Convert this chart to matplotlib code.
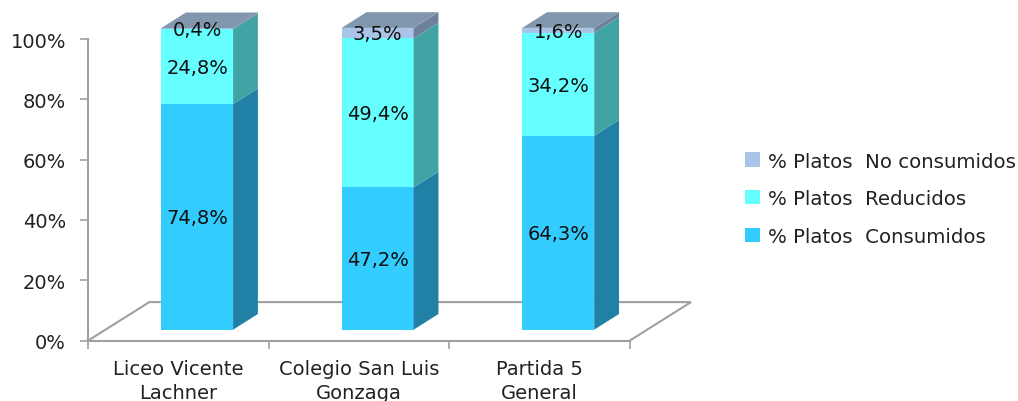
import matplotlib
matplotlib.use("Agg")
import matplotlib.pyplot as plt
from matplotlib.patches import Polygon, Patch
from matplotlib.ticker import FixedLocator, NullFormatter

categories = ["Liceo Vicente\nLachner", "Colegio San Luis\nGonzaga", "Partida 5\nGeneral"]
consumidos = [74.8, 47.2, 64.3]
reducidos = [24.8, 49.4, 34.2]
no_consumidos = [0.4, 3.5, 1.6]
value_labels = [["74,8%", "47,2%", "64,3%"], ["24,8%", "49,4%", "34,2%"], ["0,4%", "3,5%", "1,6%"]]
series_names = ["% Platos  Consumidos", "% Platos  Reducidos", "% Platos  No consumidos"]
y_ticks = [0, 20, 40, 60, 80, 100]
y_labels = ["0%", "20%", "40%", "60%", "80%", "100%"]

front = ["#33CCFF", "#66FFFF", "#A9C4E6"]
side = ["#2080A5", "#40A4A5", "#6F819A"]
top_col = "#8097AE"
grey = "#A0A0A0"
FONT = "DejaVu Sans"
W, H = 1018, 402
DPI = 100

fig = plt.figure(figsize=(W / DPI, H / DPI), dpi=DPI)
L, R, T, B = 88.3, 630, 40, 341.5
ax = fig.add_axes([L / W, 1 - B / H, (R - L) / W, (B - T) / H])
ax.set_xlim(0, 3)
ax.set_ylim(0, 100)
ax.patch.set_visible(False)
for s in ["top", "right"]:
    ax.spines[s].set_visible(False)
for s in ["left", "bottom"]:
    ax.spines[s].set_color(grey)
    ax.spines[s].set_linewidth(1.5)

ux = (R - L) / 3
uy = (B - T) / 100
fdx, fdy = 61 / ux, 38.4 / uy
sx, sy = 18.5 / ux, 10.8 / uy
dx, dy = 24.8 / ux, 15.7 / uy
bw = 72 / ux

floor_xy = [(0, 0), (fdx, fdy), (3 + fdx, fdy), (3, 0)]
ax.plot([p[0] for p in floor_xy], [p[1] for p in floor_xy], color=grey, lw=1.5,
        clip_on=False, zorder=1, solid_joinstyle="miter")

xs = [i + 0.5 + sx for i in range(3)]
series = [consumidos, reducidos, no_consumidos]
bottoms = [0, 0, 0]
for k, vals in enumerate(series):
    for i, v in enumerate(vals):
        x0 = xs[i] - bw / 2
        x1 = xs[i] + bw / 2
        b = bottoms[i] + sy
        t = b + v
        ax.bar(xs[i], v, width=bw, bottom=b, color=front[k], lw=0, zorder=3, clip_on=False)
        ax.add_patch(Polygon([(x1, b), (x1 + dx, b + dy), (x1 + dx, t + dy), (x1, t)],
                             closed=True, fc=side[k], lw=0, zorder=3, clip_on=False))
        if k == 2:
            ax.add_patch(Polygon([(x0, t), (x1, t), (x1 + dx, t + dy), (x0 + dx, t + dy)],
                                 closed=True, fc=top_col, lw=0, zorder=3, clip_on=False))
        ax.text(xs[i], bottoms[i] + sy + v / 2 - 0.8 / uy, value_labels[k][i], ha="center", va="center",
                fontsize=14, family=FONT, color="#101010", zorder=5, clip_on=False)
        bottoms[i] += v

ax.set_yticks(y_ticks)
ax.set_yticklabels(y_labels, family=FONT, fontsize=14, color="#222222")
ax.tick_params(axis="y", length=6, width=1.2, color=grey, pad=10)
ax.xaxis.set_major_locator(FixedLocator([0, 1, 2, 3]))
ax.xaxis.set_major_formatter(NullFormatter())
ax.tick_params(axis="x", length=6, width=1.2, color=grey)
for i, c in enumerate(categories):
    ax.text(i + 0.5, -6.0, c, ha="center", va="top", family=FONT, fontsize=14,
            linespacing=1.33, color="#222222", clip_on=False)

handles = [Patch(fc=front[k], lw=0, label=series_names[k]) for k in (2, 1, 0)]
fig.legend(handles=handles, loc="upper left", bbox_to_anchor=(745 / W, 1 - 152.5 / H),
           frameon=False, prop={"family": FONT, "size": 14.2},
           handlelength=0.74, handleheight=0.74, handletextpad=0.42, labelspacing=0.94,
           borderpad=0, borderaxespad=0, labelcolor="#222222")

fig.savefig("out.png", dpi=DPI)
